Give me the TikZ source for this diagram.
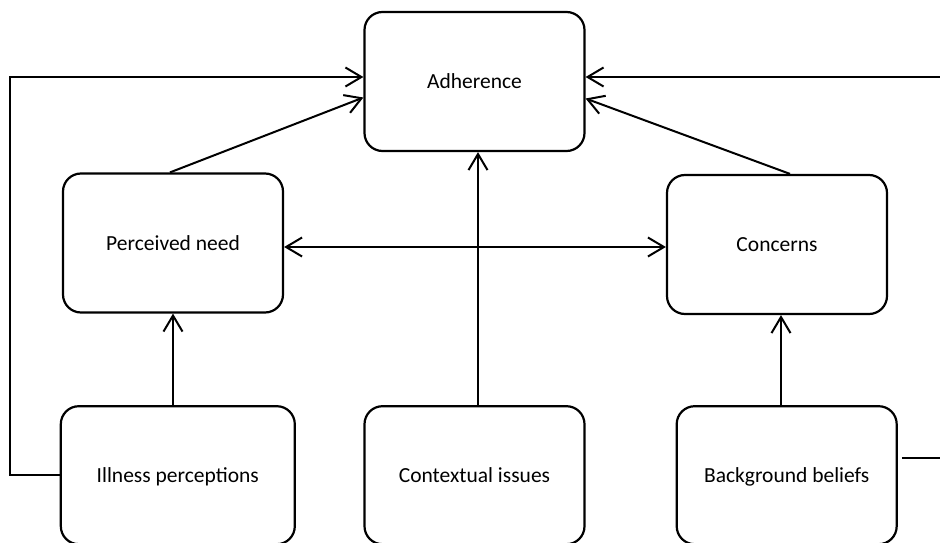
\documentclass[tikz,border=0pt]{standalone}
\usepackage{fontspec}
\setmainfont{Carlito}
\usepackage{tikz}
\usetikzlibrary{arrows.meta,positioning,calc}
\tikzset{
  barb/.tip={Straight Barb[length=16pt,width=19pt,line width=2pt]},
  factor/.style={
    draw=black, line width=2.2pt, rounded corners=18pt, fill=white,
    minimum width=220pt, minimum height=139pt, align=center,
    text height=17pt, text depth=3pt,
    font=\fontsize{21.5}{25}\selectfont
  },
  link/.style={-barb, line width=2pt, black},
  twoway/.style={barb-barb, line width=2pt, black},
  plain/.style={line width=2pt, black},
}
\begin{document}
\begin{tikzpicture}[x=1pt, y=-1pt]
  \useasboundingbox (0,0) rectangle (940,543);
    \node[factor] (adh) at (474.5,81.5) {Adherence};
    \node[factor] (need) at (173,243) {Perceived need};
    \node[factor] (conc) at (777,244.5) {Concerns};
    \node[factor, minimum height=138pt, below=253pt of adh] (ctx) {Contextual issues};
    \node[factor, minimum height=138pt, minimum width=234pt, left=67.5pt of ctx] (ill) {Illness perceptions};
    \node[factor, minimum height=138pt, right=90pt of ctx] (bgb) {Background beliefs};

    \coordinate (lft) at (10,77);
    \coordinate (rtop) at (940,77);
    \coordinate (rbot) at (940,458);

    \draw[link] (ill.west) -| (lft) -- ([yshift=4.5pt]adh.west);
    \draw[link] (rtop) -- ([yshift=4.5pt]adh.east);
    \draw[plain] ([xshift=4pt]bgb.east |- rbot) -- (rbot);
    \draw[link] ([xshift=-3pt]need.north) -- ([yshift=-16pt]adh.west);
    \draw[link] ([xshift=13pt]conc.north) -- ([yshift=-17pt]adh.east);
    \draw[link] ([xshift=3.5pt]ctx.north) -- ([xshift=3.5pt]adh.south);
    \draw[link] (need.south |- ill.north) -- (need.south);
    \draw[link] ([xshift=4pt]conc.south |- bgb.north) -- ([xshift=4pt]conc.south);
    \draw[twoway] ([yshift=-4pt]need.east) -- ([yshift=-4pt]need.east -| conc.west);
  \end{tikzpicture}
\end{document}
